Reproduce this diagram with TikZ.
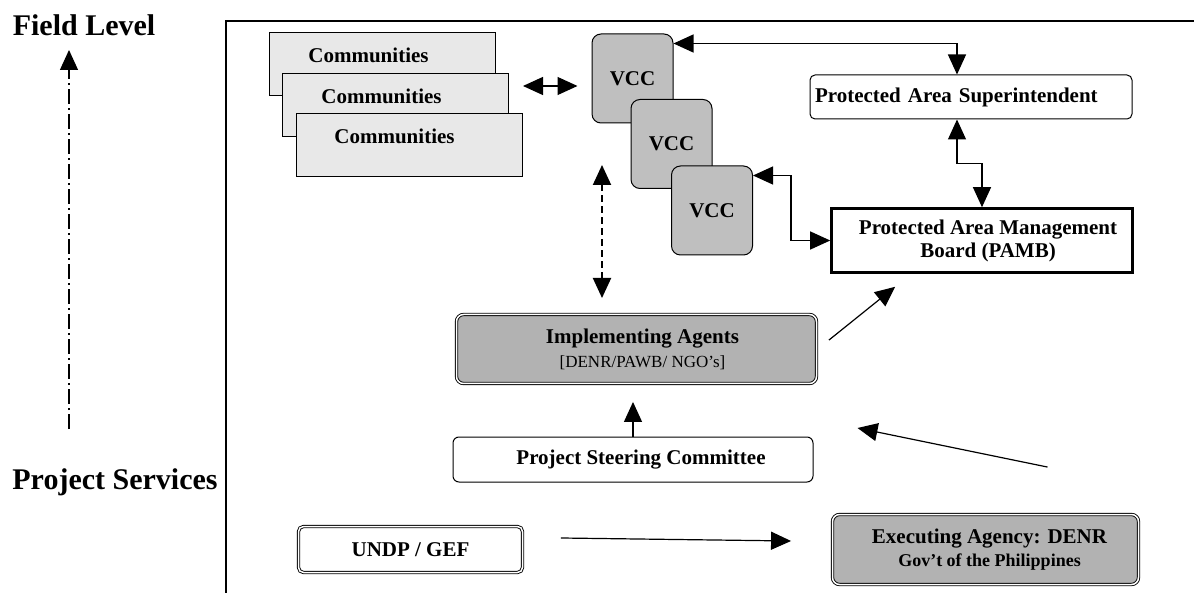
\documentclass[tikz,border=0pt]{standalone}
\usepackage{fontspec}
\setmainfont{Liberation Serif}
\usetikzlibrary{arrows.meta}

\begin{document}
\begin{tikzpicture}[x=1pt, y=-1pt, font=\fontsize{21}{23}\selectfont\bfseries,
      commbox/.style={draw, line width=1pt, fill=black!9, minimum width=226pt, minimum height=63pt, inner sep=0pt, text height=14pt, text depth=16pt},
      vccbox/.style={draw, line width=1pt, fill=black!25, rounded corners=9pt, minimum width=81pt, minimum height=89pt},
      plainbox/.style={draw, line width=1pt, fill=white, rounded corners=5pt, align=center},
      dblbox/.style={draw, line width=0.9pt, double=white, double distance=1.5pt, rounded corners=7pt, align=center},
      lvllabel/.style={font=\fontsize{30}{32}\selectfont\bfseries},
      arr/.style={-{Triangle[length=20pt,width=18pt]}, line width=1.2pt},
      dblarr/.style={{Triangle[length=20pt,width=18pt]}-{Triangle[length=20pt,width=18pt]}, line width=1.2pt}]
    \useasboundingbox (0,0) rectangle (1194,593);
    % level axis
    \node[lvllabel] (fieldlvl) at (84,25) {Field Level};
    \node[lvllabel] (projlvl) at (115,482) {Project Services};
    \coordinate (lvltop) at (69,50);
    \coordinate (lvlbot) at (69,429);
    \draw[arr, dash pattern=on 15pt off 4pt on 2pt off 4pt] (lvlbot) -- (lvltop);
    \draw[line width=1.2pt] (226,593) -- (226,21) -- (1194,21);
    % field level
    \node[commbox] (comm1) at (382.5,64)  {Communities\hspace*{28pt}};
    \node[commbox] (comm2) at (395.5,105) {Communities\hspace*{28pt}};
    \node[commbox] (comm3) at (409.5,145) {Communities\hspace*{30pt}};
    \node[vccbox] (vcc1) at (632.5,78.5) {VCC};
    \node[vccbox] (vcc2) at (671.5,144)  {VCC};
    \node[vccbox] (vcc3) at (712,210.5)  {VCC};
    \node[plainbox, minimum width=322pt, minimum height=44pt, text width=312pt, inner xsep=5pt, align=left] (pas) at (971,97) {Protected Area Superintendent};
    \node[draw, line width=2.6pt, fill=white, minimum width=301pt, minimum height=64pt, align=center] (pamb) at (982,240.5) {\hspace*{12pt}Protected Area Management\\\hspace*{12pt}Board (PAMB)};
    \draw[dblarr] ([yshift=27pt]comm3.north east) -- ([xshift=-14pt,yshift=-7.5pt]vcc1.west);
    \draw[dblarr] ([yshift=-10pt]vcc1.north east) -| ([xshift=-14pt]pas.north);
    \draw[dblarr] ([xshift=-14pt]pas.south) -- ++(0,44) -| (pamb.north);
    \draw[dblarr] ([yshift=35pt]vcc3.east) -- ++(38,0) |- (pamb.west);
    % project services
    \node[dblbox, fill=black!30, minimum width=360pt, minimum height=69pt] (agents) at (636.5,349) {\hspace*{12pt}Implementing Agents\\[1pt]{\fontsize{17}{19}\selectfont\mdseries \hspace*{12pt}[DENR/PAWB/ NGO’s]}};
    \node[plainbox, rounded corners=6pt, minimum width=360pt, minimum height=45pt] (steer) at (633,459.5) {\hspace*{16pt}Project Steering Committee};
    \node[dblbox, rounded corners=5pt, minimum width=224pt, minimum height=46pt] (undp) at (410.5,549.5) {UNDP / GEF};
    \node[dblbox, fill=black!30, minimum width=306pt, minimum height=70pt] (exec) at (985.5,549.5) {\hspace*{8pt}Executing Agency: DENR\\{\fontsize{18}{20}\selectfont \hspace*{8pt}Gov’t of the Philippines}};
    \coordinate (dtop) at (602,165);
    \coordinate (dbot) at (602,298);
    \draw[dblarr, line width=2pt, dash pattern=on 7pt off 4pt] (dtop) -- (dbot);
    \draw[arr] ([xshift=12pt,yshift=-26pt]agents.north east) -- ([xshift=65pt,yshift=-13pt]pamb.south west);
    \draw[arr, shorten >=18pt] (steer.north) -- (steer.north |- agents.south);
    \draw[arr] ([xshift=62pt,yshift=47pt]exec.north) -- ([xshift=44pt,yshift=31.5pt]steer.east);
    \draw[arr] ([xshift=38pt,yshift=11.5pt]undp.east) -- ([xshift=-41pt,yshift=8.5pt]exec.west);
\end{tikzpicture}
\end{document}
